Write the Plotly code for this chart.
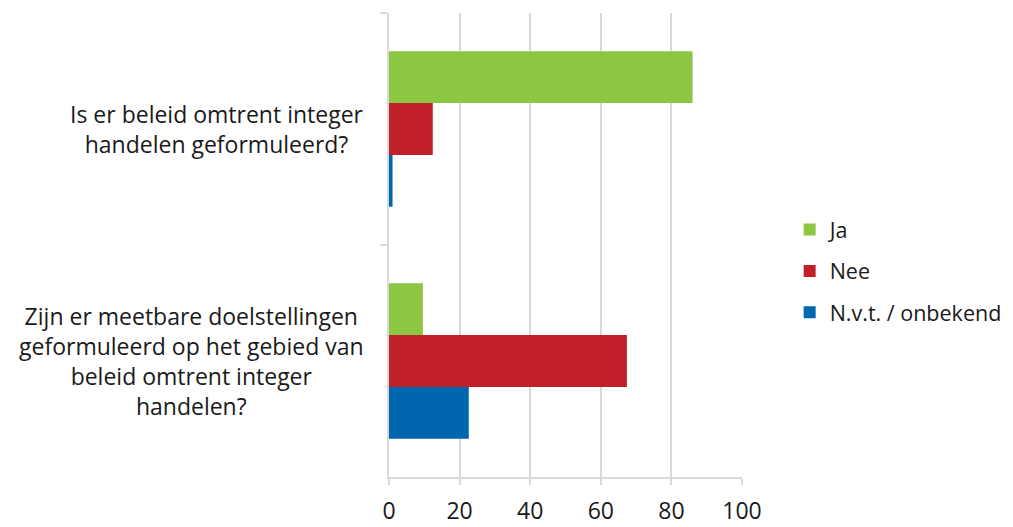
import plotly.graph_objects as go

categories = [
    "Is er beleid omtrent integer<br>handelen geformuleerd?",
    "Zijn er meetbare doelstellingen<br>geformuleerd op het gebied van<br>beleid omtrent integer<br>handelen?",
]
series_names = ["Ja", "Nee", "N.v.t. / onbekend"]
ja = [86.0, 9.6]
nee = [12.4, 67.4]
nvt = [1.0, 22.6]
x_ticks = [0, 20, 40, 60, 80, 100]
colors = ["#8DC641", "#C1202A", "#0067AF"]

FONT = "Open Sans"
TXT = "#1a1a1a"
GRID = "#d9d9d9"
LABEL_SIZE = 23

fig = go.Figure()
for name, vals, col in zip(series_names, [ja, nee, nvt], colors):
    fig.add_trace(go.Bar(
        y=categories, x=vals, name=name, orientation="h",
        marker=dict(color=col, line=dict(width=0)),
        legendgroup=name, hoverinfo="x+name",
    ))

# category labels: centred multi-line text left of the plot
for cat in categories:
    fig.add_annotation(
        x=-0.066, xref="paper", y=cat, yref="y", text=cat,
        showarrow=False, xanchor="right", yanchor="middle", align="center",
        font=dict(family=FONT, size=LABEL_SIZE, color=TXT),
    )

# page body has an 8px margin, so the figure is sized/positioned to compensate
fig.update_layout(
    width=1005, height=519,
    margin=dict(l=381, r=271, t=5, b=50, autoexpand=False),
    paper_bgcolor="white", plot_bgcolor="white",
    barmode="group", bargap=0.33, bargroupgap=0,
    font=dict(family=FONT, size=22, color=TXT),
    legend=dict(
        x=1.135, xanchor="left", y=0.444, yanchor="middle",
        traceorder="grouped", tracegroupgap=10.5,
        font=dict(family=FONT, size=21.5, color=TXT),
        itemwidth=30,
    ),
    xaxis=dict(
        range=[0, 100], tickvals=x_ticks, ticktext=[str(t) for t in x_ticks],
        showgrid=True, gridcolor=GRID, gridwidth=1.6,
        showline=True, linecolor=GRID, linewidth=1.6,
        ticks="outside", ticklen=6, tickcolor=GRID, tickwidth=1.6,
        ticklabelstandoff=7, zeroline=False,
        tickfont=dict(family=FONT, size=23, color=TXT),
    ),
    yaxis=dict(
        autorange="reversed", showticklabels=False,
        tickson="boundaries", ticks="outside", ticklen=7,
        tickcolor=GRID, tickwidth=1.6,
        showline=True, linecolor=GRID, linewidth=1.6,
        showgrid=False, zeroline=False,
    ),
)

fig.write_html("out.html")
